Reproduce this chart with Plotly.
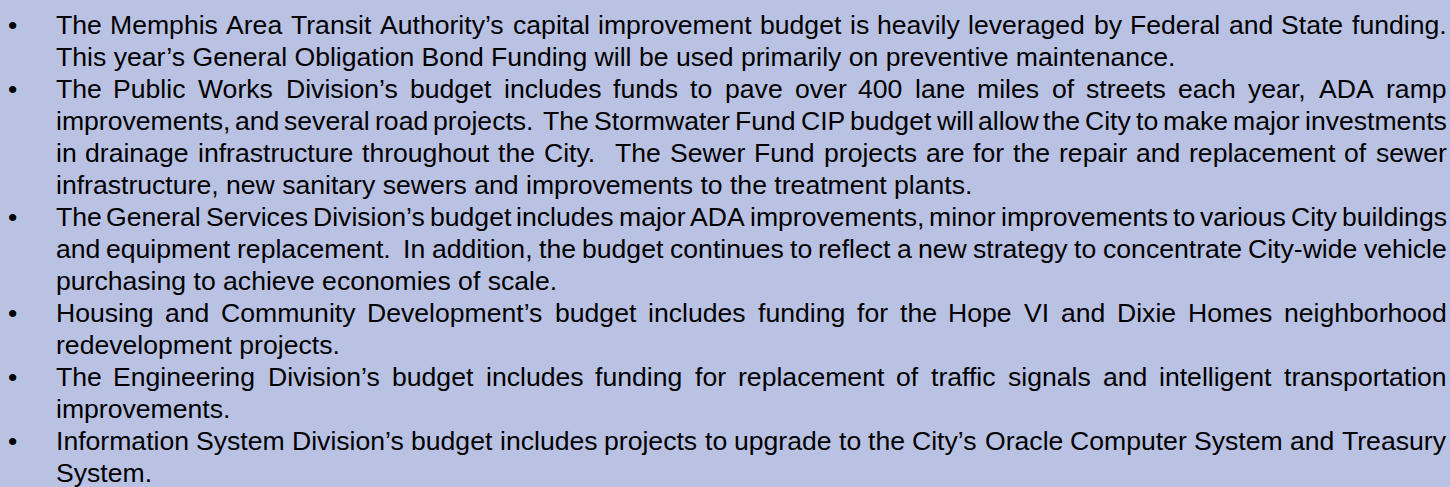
import plotly.graph_objects as go

# ---------------- data (text content) ----------------
paragraphs = [
    ["The Memphis Area Transit Authority’s capital improvement budget is heavily leveraged by Federal and State funding.",
     "This year’s General Obligation Bond Funding will be used primarily on preventive maintenance."],
    ["The Public Works Division’s budget includes funds to pave over 400 lane miles of streets each year, ADA ramp",
     "improvements, and several road projects.  The Stormwater Fund CIP budget will allow the City to make major investments",
     "in drainage infrastructure throughout the City.  The Sewer Fund projects are for the repair and replacement of sewer",
     "infrastructure, new sanitary sewers and improvements to the treatment plants."],
    ["The General Services Division’s budget includes major ADA improvements, minor improvements to various City buildings",
     "and equipment replacement.  In addition, the budget continues to reflect a new strategy to concentrate City-wide vehicle",
     "purchasing to achieve economies of scale."],
    ["Housing and Community Development’s budget includes funding for the Hope VI and Dixie Homes neighborhood",
     "redevelopment projects."],
    ["The Engineering Division’s budget includes funding for replacement of traffic signals and intelligent transportation",
     "improvements."],
    ["Information System Division’s budget includes projects to upgrade to the City’s Oracle Computer System and Treasury",
     "System."],
]
bullet_char = "•"

# ---------------- styling / layout ----------------
W, H = 1450, 487
BG = "#BAC2E3"
FONT = "Liberation Sans, Arial, Helvetica, sans-serif"
SIZE = 26.6
LEFT = 55.5
RIGHT = 1446.5
BULLET_X = 12.7
FIRST_BASELINE = 34.3
LINE_STEP = 32.0
BASE_OFFSET = 0.3465 * SIZE  # baseline below box centre

# Arial / Liberation Sans advance widths (per 1000 em)
AW = {}
def _set(chars, w):
    for c in chars:
        AW[c] = w
_set(" !,./:;[]\\Ift", 278)
_set("ijl’‘", 222)
_set("'", 191)
_set("cksvxyzJ", 500)
_set("abdeghnopqu0123456789L_?$#", 556)
_set("r-()`", 333)
_set("+<=>~", 584)
_set("FTZ", 611)
_set("ABEKPSVXY&", 667)
_set("CDHNRUw", 722)
_set("GOQ", 778)
_set("mM", 833)
_set("W", 944)

def tw(s):
    return sum(AW.get(c, 556) for c in s) * SIZE / 1000.0

def px_to_paper(x, y):
    return x / W, 1 - y / H

annotations = []
def add_text(txt, x, baseline, anchor="left"):
    px, py = px_to_paper(x, baseline - BASE_OFFSET)
    annotations.append(dict(
        text=txt, x=px, y=py, xref="paper", yref="paper",
        xanchor=anchor, yanchor="middle", showarrow=False,
        borderpad=0, borderwidth=0,
        font=dict(family=FONT, size=SIZE, color="#000000"),
    ))

line_idx = 0
for para in paragraphs:
    for j, line in enumerate(para):
        base = FIRST_BASELINE + line_idx * LINE_STEP
        if j == 0:
            add_text(bullet_char, BULLET_X, base, anchor="center")
        last = (j == len(para) - 1)
        if last:
            add_text(line, LEFT, base)
        else:
            tokens = line.split(" ")
            n_gaps = len(tokens) - 1
            natural = sum(tw(t) for t in tokens)
            gap = (RIGHT - LEFT - natural) / n_gaps
            x = LEFT
            for k, t in enumerate(tokens):
                if t:
                    if k == len(tokens) - 1:
                        add_text(t, RIGHT, base, anchor="right")
                    else:
                        add_text(t, x, base)
                x += tw(t) + gap
        line_idx += 1

fig = go.Figure()
fig.update_layout(
    width=W, height=H,
    margin=dict(l=0, r=0, t=0, b=0),
    paper_bgcolor=BG, plot_bgcolor=BG,
    xaxis=dict(visible=False, range=[0, 1], fixedrange=True),
    yaxis=dict(visible=False, range=[0, 1], fixedrange=True),
    showlegend=False,
    annotations=annotations,
)
fig.write_html(
    "out.html",
    config={"displayModeBar": False},
    post_script="document.body.style.margin='0';document.body.style.padding='0';"
                "document.body.style.background='" + BG + "';"
                "document.documentElement.style.overflow='hidden';",
)
